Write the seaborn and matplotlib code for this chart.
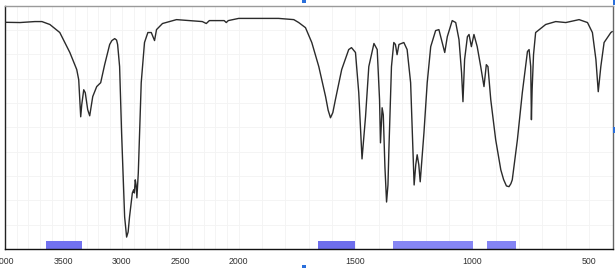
import numpy as np
import pandas as pd
import matplotlib
matplotlib.use("Agg")
import matplotlib.pyplot as plt
import seaborn as sns
from matplotlib.ticker import FixedLocator, MultipleLocator, NullFormatter
from matplotlib.patches import Rectangle

# ---- data (wavenumber, cm-1 ; transmittance, %) ----
wavenumber = [4000, 3872, 3744, 3684, 3616, 3531, 3445, 3386, 3369, 3352, 3343, 3326, 3313,
              3292, 3275, 3249, 3215, 3181, 3147, 3104, 3085, 3061, 3045, 3036, 3019, 3002,
              2976, 2959, 2946, 2934, 2910, 2899, 2893, 2885, 2878, 2871, 2859, 2848, 2834,
              2806, 2777, 2748, 2737, 2720, 2703, 2652, 2532, 2422, 2311, 2277, 2251, 2124,
              2106, 2089, 2000, 1914, 1829, 1764, 1743, 1714, 1687, 1657, 1628, 1617, 1607,
              1597, 1586, 1559, 1529, 1517, 1500, 1486, 1472, 1457, 1443, 1421, 1407, 1397,
              1393, 1386, 1381, 1374, 1367, 1361, 1357, 1346, 1336, 1329, 1322, 1314, 1293,
              1279, 1264, 1249, 1242, 1236, 1229, 1223, 1207, 1193, 1178, 1157, 1143, 1129,
              1118, 1107, 1086, 1071, 1057, 1046, 1040, 1033, 1021, 1014, 1004, 993, 979, 964,
              950, 940, 933, 921, 900, 878, 866, 854, 843, 835, 829, 807, 786, 764, 757, 750,
              747, 744, 738, 729, 686, 643, 600, 543, 507, 486, 471, 461, 450, 436, 407, 401]
transmittance = [93.1, 93.0, 93.4, 93.4, 92.2, 88.9, 80.7, 73.7, 69.5, 54.3, 59.3, 65.4, 64.2,
                 57.2, 54.7, 62.6, 66.7, 68.3, 75.7, 84.0, 85.6, 86.4, 85.8, 84.0, 74.9, 47.7,
                 13.2, 4.9, 7.0, 13.2, 23.0, 24.3, 23.0, 28.4, 26.3, 21.0, 31.3, 47.7, 68.3,
                 84.8, 88.9, 88.9, 87.6, 85.6, 90.1, 92.6, 94.2, 93.8, 93.4, 92.6, 93.8, 93.8,
                 93.0, 93.8, 94.7, 94.7, 94.7, 94.2, 93.0, 90.9, 84.8, 74.9, 62.6, 57.0, 53.9,
                 56.0, 61.3, 73.7, 81.9, 82.7, 80.7, 64.2, 37.0, 54.3, 74.9, 84.4, 81.9, 61.3,
                 43.6, 58.0, 55.1, 33.7, 19.3, 26.3, 40.7, 74.9, 84.8, 84.0, 79.8, 84.0, 84.8,
                 81.9, 68.3, 26.3, 34.6, 38.7, 34.6, 27.6, 47.7, 68.3, 83.1, 89.7, 90.1, 84.8,
                 80.7, 87.2, 93.8, 93.0, 86.0, 72.4, 60.5, 77.8, 87.2, 88.1, 83.1, 88.1, 83.1,
                 74.9, 66.7, 75.7, 74.9, 61.3, 44.9, 32.5, 28.5, 25.9, 25.6, 26.8, 28.4, 44.9,
                 64.2, 81.1, 81.9, 74.9, 53.1, 65.4, 79.8, 88.9, 92.2, 93.4, 93.0, 94.2, 93.0,
                 88.9, 77.8, 64.6, 74.9, 84.8, 88.9, 89.3]

# highlighted bands (cm-1)
band_start = [3650, 1660, 1340, 935]
band_end = [3345, 1503, 997, 815]
band_color = ["#7272F0", "#6E6EEC", "#8686F4", "#8484F4"]

tick_values = [4000, 3500, 3000, 2500, 2000, 1500, 1000, 500]
tick_labels = ["4000", "3500", "3000", "2500", "2000", "1500", "1000", "500"]

df = pd.DataFrame({"wn": wavenumber, "T": transmittance})

W, H = 615, 268
fig = plt.figure(figsize=(W / 100, H / 100), dpi=100)
sns.set_style("white")
plt.rcParams["font.family"] = ["Liberation Sans", "DejaVu Sans"]

ax = fig.add_axes([5 / W, (H - 249) / H, (612.5 - 5) / W, (249 - 5.5) / H])


def fwd(x):
    x = np.asarray(x, dtype=float)
    return np.where(x >= 2000, x, 2 * x - 2000)


def inv(y):
    y = np.asarray(y, dtype=float)
    return np.where(y >= 2000, y, (y + 2000) / 2)


ax.set_xscale("function", functions=(fwd, inv))
ax.set_xlim(4000, 400)
ax.set_ylim(0, 100)

ax.set_axisbelow(True)
ax.xaxis.set_major_locator(FixedLocator(tick_values))
ax.set_xticklabels(tick_labels)
ax.xaxis.set_minor_locator(FixedLocator(list(range(400, 4001, 100))))
ax.yaxis.set_major_locator(FixedLocator([0, 50, 100]))
ax.yaxis.set_minor_locator(MultipleLocator(10))
ax.yaxis.set_major_formatter(NullFormatter())
ax.grid(which="both", color="#f3f3f3", linewidth=0.6)

for s, e, c in zip(band_start, band_end, band_color):
    ax.axvspan(s, e, ymin=0, ymax=0.034, color=c, lw=0, zorder=2)

sns.lineplot(data=df, x="wn", y="T", sort=False, estimator=None, ax=ax,
             color="#2b2b2b", linewidth=1.0, zorder=3)

ax.set_xlabel("")
ax.set_ylabel("")

for side, col in [("bottom", "#111111"), ("left", "#222222"), ("top", "#9a9a9a"), ("right", "#666666")]:
    ax.spines[side].set_color(col)
    ax.spines[side].set_linewidth(1.0)

ax.tick_params(axis="x", which="major", direction="out", length=4, width=0.8,
               color="#111111", labelsize=6.3, labelcolor="#333333", pad=1.5)
ax.tick_params(axis="x", which="minor", direction="out", length=2.5, width=0.7, color="#111111")
ax.tick_params(axis="y", which="major", direction="out", length=5, width=0.8, color="#222222")
ax.tick_params(axis="y", which="minor", direction="out", length=3, width=0.7, color="#222222")

# small blue selection handles
handle = "#2a6fdb"
for (x0, y0, w, h) in [(302, 0, 4, 2.5), (612.5, 0, 2.5, 5), (612.5, 127, 2.5, 6), (302, 265, 4, 3)]:
    fig.patches.append(Rectangle((x0 / W, 1 - (y0 + h) / H), w / W, h / H,
                                 transform=fig.transFigure, color=handle, lw=0))

fig.savefig("out.png", dpi=100)
